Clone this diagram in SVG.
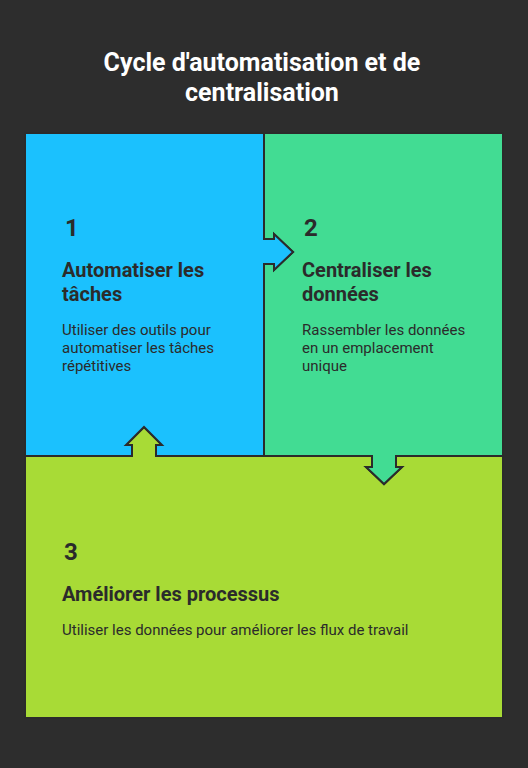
<svg xmlns="http://www.w3.org/2000/svg" width="528" height="768" viewBox="0 0 528 768">
<style>
.panel{stroke:#2b2b2b;stroke-width:2;stroke-linejoin:miter}
.t{font-family:Roboto,"Liberation Sans",sans-serif;fill:#2b2b2b}
.num{font-size:24px;font-weight:700}
.head{font-size:20px;font-weight:700}
.body{font-size:15px;font-weight:400}
.title{font-family:Roboto,"Liberation Sans",sans-serif;font-size:25px;font-weight:700;fill:#ffffff;text-anchor:middle}
</style>
<rect x="0" y="0" width="528" height="768" fill="#2d2d2d"/>
<text class="title" x="262" y="71">Cycle d'automatisation et de</text>
<text class="title" x="262" y="101">centralisation</text>
<g id="node3">
<polygon class="panel" fill="#a8db36" points="25,456 132,456 132,445 126,445 144,427 162,445 156,445 156,456 372,456 372,467 366,467 384,484 402,467 396,467 396,456 503,456 503,718 25,718"/>
<text class="t num" x="64" y="560">3</text>
<text class="t head" x="62" y="601">Améliorer les processus</text>
<text class="t body" x="62" y="635">Utiliser les données pour améliorer les flux de travail</text>
</g>
<g id="node2">
<polygon class="panel" fill="#42dc93" points="264,133 503,133 503,456 396,456 396,467 402,467 384,484 366,467 372,467 372,456 264,456 264,264 274,264 274,270 293,252 274,234 274,239 264,239"/>
<text class="t num" x="304" y="236">2</text>
<text class="t head" x="302" y="277">Centraliser les</text>
<text class="t head" x="302" y="301">données</text>
<text class="t body" x="302" y="335">Rassembler les données</text>
<text class="t body" x="302" y="353">en un emplacement</text>
<text class="t body" x="302" y="371">unique</text>
</g>
<g id="node1">
<polygon class="panel" fill="#1bc1fe" points="25,133 264,133 264,239 274,239 274,234 293,252 274,270 274,264 264,264 264,456 156,456 156,445 162,445 144,427 126,445 132,445 132,456 25,456"/>
<text class="t num" x="65" y="236">1</text>
<text class="t head" x="62" y="277">Automatiser les</text>
<text class="t head" x="62" y="301">tâches</text>
<text class="t body" x="62" y="335">Utiliser des outils pour</text>
<text class="t body" x="62" y="353">automatiser les tâches</text>
<text class="t body" x="62" y="371">répétitives</text>
</g>
<g id="connectors"></g>
</svg>
